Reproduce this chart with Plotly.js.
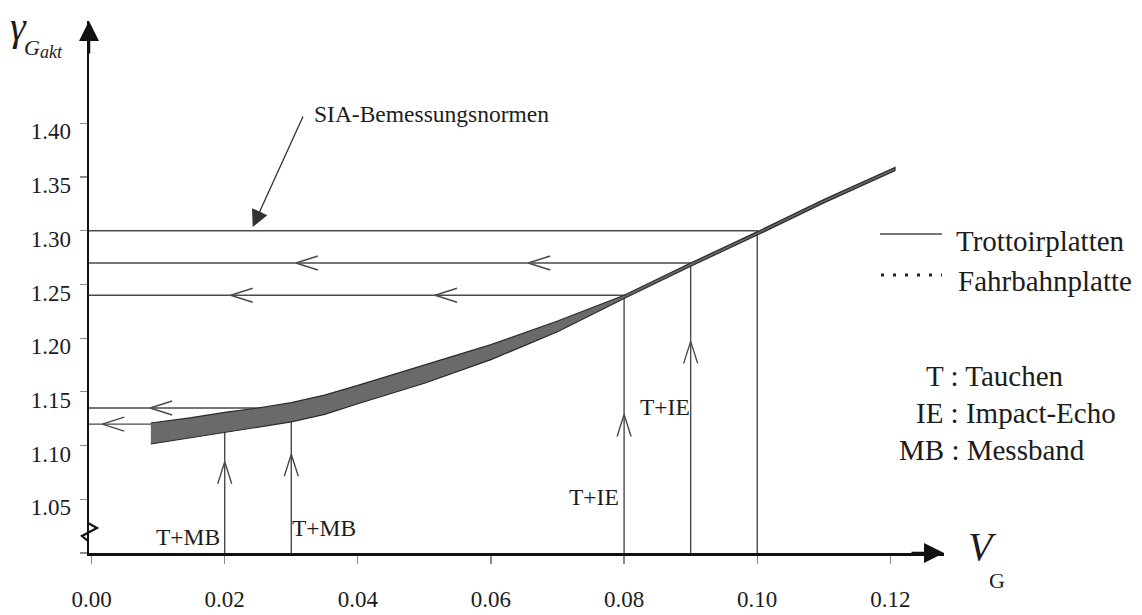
<!DOCTYPE html>
<html>
<head>
<meta charset="utf-8">
<script src="https://cdn.plot.ly/plotly-3.0.1.min.js"></script>
<style>
  html, body { margin: 0; padding: 0; background: #ffffff; }
  #chart { width: 1142px; height: 615px; }
</style>
</head>
<body>
<div id="chart"></div>
<script>
// ---------------- data ----------------
// gamma_G,akt band (upper / lower edge) versus V_G
const bandX     = [0.0089, 0.015, 0.02,  0.025, 0.03,  0.035, 0.04,  0.05,  0.06,  0.07,  0.08,  0.09,  0.10,  0.11,  0.1207];
const bandUpper = [1.121,  1.126, 1.131, 1.135, 1.140, 1.147, 1.156, 1.175, 1.194, 1.216, 1.240, 1.270, 1.299, 1.329, 1.359];
const bandLower = [1.1015, 1.107, 1.112, 1.117, 1.122, 1.129, 1.139, 1.158, 1.180, 1.206, 1.237, 1.267, 1.296, 1.326, 1.356];

// read-off guide lines: V_G value and resulting gamma
const guideX = [0.02, 0.03, 0.08, 0.09, 0.10];
const guideY = [1.12, 1.135, 1.24, 1.27, 1.30];

// open arrow heads on the guide lines
const leftArrowX = [0.0016, 0.0088, 0.0209, 0.0516, 0.0307, 0.0656];
const leftArrowY = [1.12,   1.135,  1.24,   1.24,   1.27,   1.27];
const upArrowX   = [0.02,  0.03,  0.08,  0.09];
const upArrowY   = [1.085, 1.092, 1.129, 1.197];

// SIA design standard value
const siaGamma = 1.3035;
const siaX = 0.0242;

// ticks
const xTickVals = [0, 0.02, 0.04, 0.06, 0.08, 0.10, 0.12];
const xTickText = ['0.00', '0.02', '0.04', '0.06', '0.08', '0.10', '0.12'];
const yTickVals = [1.00, 1.05, 1.10, 1.15, 1.20, 1.25, 1.30, 1.35, 1.40];
const yTickText = ['', '1.05', '1.10', '1.15', '1.20', '1.25', '1.30', '1.35', '1.40'];

// texts
const legendNames  = ['Trottoirplatten', 'Fahrbahnplatte'];
const methodKey    = ['T : Tauchen', 'IE : Impact-Echo', 'MB : Messband'];
const methodLabels = ['T+MB', 'T+MB', 'T+IE', 'T+IE'];
const siaText = 'SIA-Bemessungsnormen';

// ---------------- layout helpers ----------------
const W = 1142, H = 615;
const M = { l: 89, r: 198, t: 21, b: 62 };
const plotW = W - M.l - M.r;
const plotH = H - M.t - M.b;
const xRange = [-0.00039, 0.12806];
const yRange = [1.0, 1.4953];
const pxPerX = plotW / (xRange[1] - xRange[0]);
const pxPerY = plotH / (yRange[1] - yRange[0]);
const px = v => (v - M.l) / plotW;          // pixel x -> paper
const py = v => (H - M.b - v) / plotH;      // pixel y -> paper

const SERIF = 'Liberation Serif, Times New Roman, serif';
const INK = '#1c1c1c';
const GUIDE = '#4a4a4a';

// guide lines (horizontal from axis, then down to the V_G axis)
const gx = [], gy = [];
guideX.forEach((x, i) => {
  gx.push(xRange[0], x, x, null);
  gy.push(guideY[i], guideY[i], yRange[0], null);
});

// chevrons (open arrow heads), size in pixels
const chevLen = 22, chevHalf = 7;
const cx = [], cy = [];
leftArrowX.forEach((x, i) => {
  const y = leftArrowY[i];
  const dx = chevLen / pxPerX, dy = chevHalf / pxPerY;
  cx.push(x + dx, x, x + dx, null);
  cy.push(y + dy, y, y - dy, null);
});
upArrowX.forEach((x, i) => {
  const y = upArrowY[i];
  const dx = chevHalf / pxPerX, dy = chevLen / pxPerY;
  cx.push(x - dx, x, x + dx, null);
  cy.push(y - dy, y, y - dy, null);
});

// band polygon
const polyX = bandX.concat(bandX.slice().reverse());
const polyY = bandUpper.concat(bandLower.slice().reverse());

const data = [
  { type: 'scatter', mode: 'lines', x: gx, y: gy, hoverinfo: 'skip',
    line: { color: GUIDE, width: 1.4 }, showlegend: false },
  { type: 'scatter', mode: 'lines', x: polyX, y: polyY, name: legendNames[0],
    fill: 'toself', fillcolor: '#6a6a6a',
    line: { color: '#2a2a2a', width: 1.2 }, showlegend: false },
  { type: 'scatter', mode: 'lines', x: cx, y: cy, hoverinfo: 'skip',
    line: { color: GUIDE, width: 1.4 }, showlegend: false }
];

const ann = [];
// axis arrow heads
ann.push({ xref: 'paper', yref: 'paper', x: 0, y: 1, ax: 0, ay: 34, text: '',
  showarrow: true, arrowhead: 2, arrowsize: 1.6, arrowwidth: 2.5, arrowcolor: '#111' });
ann.push({ xref: 'paper', yref: 'paper', x: 1, y: 0, ax: -34, ay: 0, text: '',
  showarrow: true, arrowhead: 2, arrowsize: 1.6, arrowwidth: 2.5, arrowcolor: '#111' });
// SIA arrow + text
ann.push({ xref: 'x', yref: 'y', x: siaX, y: siaGamma, ax: 51, ay: -112, text: '',
  showarrow: true, arrowhead: 2, arrowsize: 2.6, arrowwidth: 1.3, arrowcolor: '#333' });
ann.push({ xref: 'paper', yref: 'paper', x: px(312), y: py(114), xanchor: 'left', yanchor: 'middle',
  text: siaText, showarrow: false, font: { family: SERIF, size: 23.5, color: INK } });
// axis titles
ann.push({ xref: 'paper', yref: 'paper', x: px(8), y: py(27), xanchor: 'left', yanchor: 'middle',
  text: '<i>γ</i>', showarrow: false, font: { family: SERIF, size: 40, color: INK } });
ann.push({ xref: 'paper', yref: 'paper', x: px(22), y: py(47), xanchor: 'left', yanchor: 'middle',
  text: '<i>G</i>', showarrow: false, font: { family: SERIF, size: 22, color: INK } });
ann.push({ xref: 'paper', yref: 'paper', x: px(38), y: py(52), xanchor: 'left', yanchor: 'middle',
  text: '<i>akt</i>', showarrow: false, font: { family: SERIF, size: 18, color: INK } });
ann.push({ xref: 'paper', yref: 'paper', x: px(966), y: py(546), xanchor: 'left', yanchor: 'middle',
  text: '<i>V</i>', showarrow: false, font: { family: SERIF, size: 40, color: INK } });
ann.push({ xref: 'paper', yref: 'paper', x: px(987), y: py(580), xanchor: 'left', yanchor: 'middle',
  text: 'G', showarrow: false, font: { family: SERIF, size: 22, color: INK } });
// legend texts
ann.push({ xref: 'paper', yref: 'paper', x: px(954), y: py(241), xanchor: 'left', yanchor: 'middle',
  text: legendNames[0], showarrow: false, font: { family: SERIF, size: 29, color: INK } });
ann.push({ xref: 'paper', yref: 'paper', x: px(956), y: py(281), xanchor: 'left', yanchor: 'middle',
  text: legendNames[1], showarrow: false, font: { family: SERIF, size: 29, color: INK } });
// method key
const keyLeft = [924, 914, 897], keyY = [376, 413, 450];
methodKey.forEach((t, i) => ann.push({ xref: 'paper', yref: 'paper', x: px(keyLeft[i]), y: py(keyY[i]),
  xanchor: 'left', yanchor: 'middle', text: t, showarrow: false,
  font: { family: SERIF, size: 29, color: INK } }));
// method labels near guide lines
const labPos = [
  { x: 222, y: 537, a: 'right' },
  { x: 290, y: 528, a: 'left' },
  { x: 621, y: 497, a: 'right' },
  { x: 638, y: 407, a: 'left' }
];
methodLabels.forEach((t, i) => ann.push({ xref: 'paper', yref: 'paper', x: px(labPos[i].x), y: py(labPos[i].y),
  xanchor: labPos[i].a, yanchor: 'middle', text: t, showarrow: false,
  font: { family: SERIF, size: 23.5, color: INK } }));

const shapes = [
  // legend samples
  { type: 'line', xref: 'paper', yref: 'paper', x0: px(880), x1: px(942), y0: py(234), y1: py(234),
    line: { color: '#777', width: 2 } },
  { type: 'line', xref: 'paper', yref: 'paper', x0: px(881), x1: px(942), y0: py(275), y1: py(275),
    line: { color: '#222', width: 3, dash: '3px,9px' } },
  // axis break mark
  { type: 'path', xref: 'paper', yref: 'paper',
    path: `M ${px(88)},${py(523)} L ${px(97)},${py(528)} L ${px(82)},${py(536)} L ${px(88)},${py(541)}`,
    line: { color: '#111', width: 2.2 } }
];

const axisCommon = {
  showgrid: false, zeroline: false, showline: true,
  linecolor: '#111', linewidth: 2.5,
  ticks: 'outside', tickcolor: '#8a8a8a', tickwidth: 1.2,
  tickfont: { family: SERIF, size: 23, color: INK },
  tickmode: 'array', fixedrange: true
};

const layout = {
  width: W, height: H,
  margin: { l: M.l, r: M.r, t: M.t, b: M.b, pad: 0 },
  paper_bgcolor: '#ffffff', plot_bgcolor: '#ffffff',
  showlegend: false,
  xaxis: Object.assign({}, axisCommon, {
    range: xRange, tickvals: xTickVals, ticktext: xTickText,
    ticklen: 8, ticklabelstandoff: 16
  }),
  yaxis: Object.assign({}, axisCommon, {
    range: yRange, tickvals: yTickVals, ticktext: yTickText,
    ticklen: 7, ticklabelstandoff: 4, ticklabelshift: 8
  }),
  annotations: ann,
  shapes: shapes
};

Plotly.newPlot('chart', data, layout, { staticPlot: true, displayModeBar: false });
</script>
</body>
</html>
